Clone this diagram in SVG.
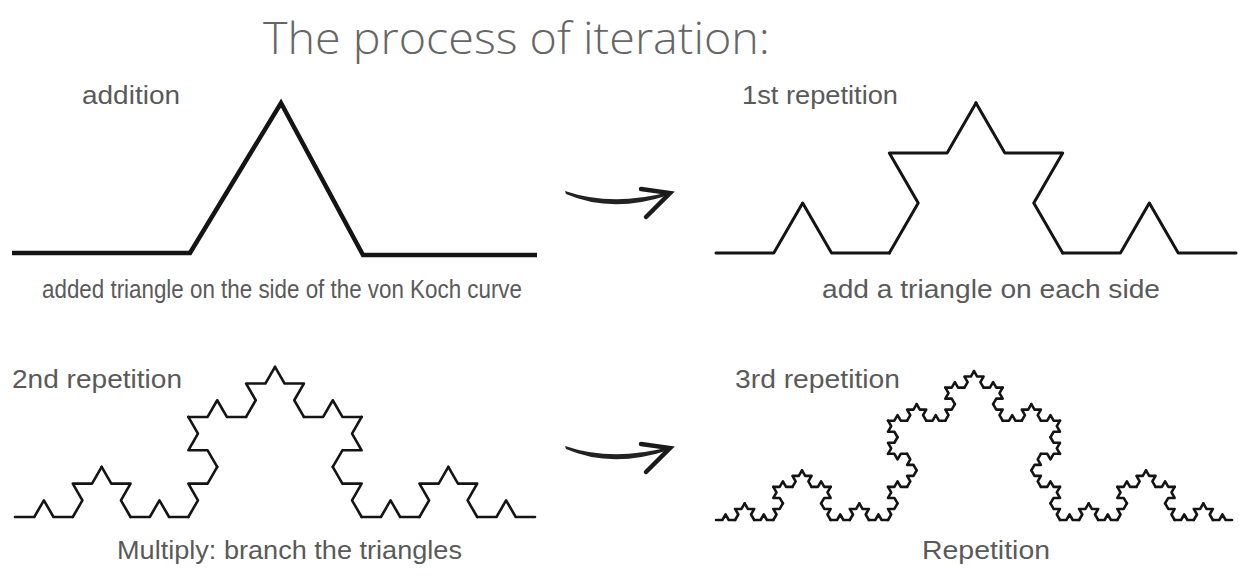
<svg xmlns="http://www.w3.org/2000/svg" xmlns:xlink="http://www.w3.org/1999/xlink" width="1239" height="585" viewBox="0 0 1239 585">
<style>
.k{fill:none;vector-effect:non-scaling-stroke;stroke-linejoin:round;stroke-linecap:round}
.curve{fill:none;stroke:#141414}
.lbl{font-family:"Liberation Sans",Arial,sans-serif;font-size:26px;fill:#5a5a5a}
.title{font-family:"Open Sans","Liberation Sans",sans-serif;font-size:44px;font-weight:300;fill:#666}
.arrow-line{fill:#222}
.arrow-head{fill:none;stroke:#1a1a1a;stroke-width:4.5;stroke-linecap:round;stroke-linejoin:miter}
</style>
<defs>
<polyline id="k1" class="k" points="0,0 0.333333,0 0.5,-0.288675 0.666667,0 1,0"/>
<g id="k2">
<use xlink:href="#k1" transform="scale(0.333333)"/>
<use xlink:href="#k1" transform="translate(0.333333,0) rotate(-60) scale(0.333333)"/>
<use xlink:href="#k1" transform="translate(0.5,-0.288675) rotate(60) scale(0.333333)"/>
<use xlink:href="#k1" transform="translate(0.666667,0) scale(0.333333)"/>
</g>
<g id="k3">
<use xlink:href="#k2" transform="scale(0.333333)"/>
<use xlink:href="#k2" transform="translate(0.333333,0) rotate(-60) scale(0.333333)"/>
<use xlink:href="#k2" transform="translate(0.5,-0.288675) rotate(60) scale(0.333333)"/>
<use xlink:href="#k2" transform="translate(0.666667,0) scale(0.333333)"/>
</g>
<g id="k4">
<use xlink:href="#k3" transform="scale(0.333333)"/>
<use xlink:href="#k3" transform="translate(0.333333,0) rotate(-60) scale(0.333333)"/>
<use xlink:href="#k3" transform="translate(0.5,-0.288675) rotate(60) scale(0.333333)"/>
<use xlink:href="#k3" transform="translate(0.666667,0) scale(0.333333)"/>
</g>
<g id="arrow">
<path class="arrow-line" d="M565,191 Q612,207 669,192 L669,195 Q612,214 566,194 Z"/>
<polyline class="arrow-head" points="641,189 670,193 646,217"/>
</g>
</defs>
<rect width="1239" height="585" fill="#ffffff"/>
<text class="title" x="263" y="54" textLength="507" lengthAdjust="spacingAndGlyphs">The process of iteration:</text>
<g id="addition">
<text class="lbl" x="82" y="104" textLength="98" lengthAdjust="spacingAndGlyphs">addition</text>
<polyline class="curve" stroke-width="4.5" stroke-linejoin="miter" points="12,253 190,253 281,103 363,255 537,255"/>
<text class="lbl" x="42" y="298" textLength="480" lengthAdjust="spacingAndGlyphs">added triangle on the side of the von Koch curve</text>
</g>
<g id="first-repetition">
<text class="lbl" x="742" y="104" textLength="156" lengthAdjust="spacingAndGlyphs">1st repetition</text>
<use xlink:href="#k2" class="curve" stroke-width="3" transform="translate(716,253) scale(520)"/>
<text class="lbl" x="822" y="298" textLength="338" lengthAdjust="spacingAndGlyphs">add a triangle on each side</text>
</g>
<g id="second-repetition">
<text class="lbl" x="12" y="388" textLength="170" lengthAdjust="spacingAndGlyphs">2nd repetition</text>
<use xlink:href="#k3" class="curve" stroke-width="2.6" transform="translate(15,517) scale(520)"/>
<text class="lbl" x="117" y="559" textLength="345" lengthAdjust="spacingAndGlyphs">Multiply: branch the triangles</text>
</g>
<g id="third-repetition">
<text class="lbl" x="735" y="388" textLength="165" lengthAdjust="spacingAndGlyphs">3rd repetition</text>
<use xlink:href="#k4" class="curve" stroke-width="2.6" transform="translate(716,520) scale(516)"/>
<text class="lbl" x="922" y="559" textLength="128" lengthAdjust="spacingAndGlyphs">Repetition</text>
</g>
<g id="connectors">
<use xlink:href="#arrow"/>
<use xlink:href="#arrow" transform="translate(0,255)"/>
</g>
</svg>
